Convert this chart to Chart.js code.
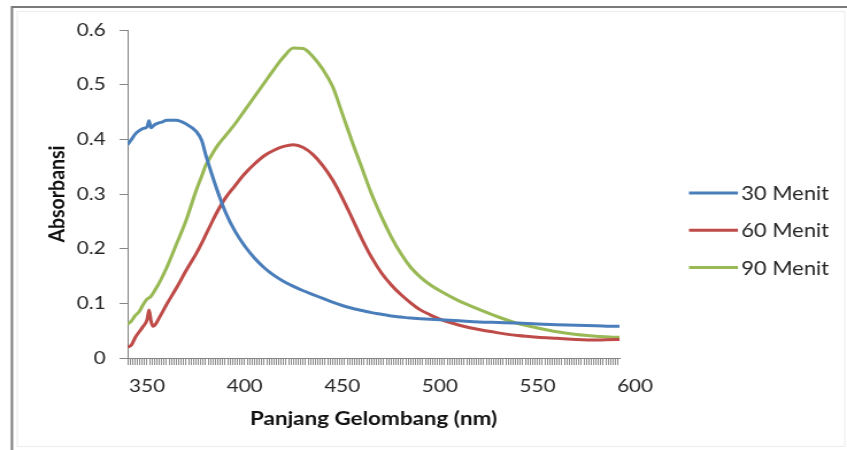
<!DOCTYPE html>
<html>
<head>
<meta charset="utf-8">
<title>Absorbansi</title>
<script src="https://cdn.jsdelivr.net/npm/chart.js@4.4.1/dist/chart.umd.min.js"></script>
<style>
  html, body { margin: 0; padding: 0; background: #fff; }
</style>
</head>
<body>
<!-- backing store is 737 wide, shown at 847: everything is widened a little -->
<canvas id="absorbance-chart" width="737" height="450" style="display:block;width:847px;height:450px"></canvas>
<script>
// wavelength (nm) of each sample
const wavelengths = [340, 342, 344, 346, 348, 350, 351, 352, 353, 354, 356, 358, 360,
  365, 370, 375, 378, 380, 383, 386, 390, 395, 400, 405, 410, 415, 420, 425, 430,
  435, 440, 445, 450, 455, 460, 465, 470, 475, 480, 485, 490, 495, 500, 510, 520,
  530, 540, 550, 560, 570, 580, 590, 592];

const menit30 = [0.390, 0.400, 0.410, 0.416, 0.420, 0.423, 0.434, 0.421, 0.424, 0.427, 0.430, 0.432, 0.435,
  0.435, 0.428, 0.415, 0.398, 0.372, 0.338, 0.306, 0.268, 0.232, 0.205, 0.183, 0.165, 0.151, 0.140, 0.131, 0.123,
  0.116, 0.109, 0.102, 0.096, 0.091, 0.087, 0.083, 0.080, 0.077, 0.075, 0.073, 0.072, 0.071, 0.070, 0.068, 0.066,
  0.065, 0.064, 0.062, 0.061, 0.060, 0.059, 0.058, 0.058];

const menit60 = [0.020, 0.024, 0.038, 0.048, 0.058, 0.070, 0.088, 0.068, 0.058, 0.060, 0.072, 0.085, 0.098,
  0.128, 0.160, 0.190, 0.210, 0.225, 0.247, 0.268, 0.292, 0.315, 0.337, 0.355, 0.370, 0.380, 0.387, 0.390, 0.385,
  0.372, 0.352, 0.326, 0.293, 0.256, 0.218, 0.184, 0.156, 0.134, 0.116, 0.101, 0.088, 0.079, 0.071, 0.060, 0.052,
  0.046, 0.041, 0.038, 0.036, 0.034, 0.033, 0.034, 0.034];

const menit90 = [0.062, 0.068, 0.078, 0.085, 0.098, 0.108, 0.110, 0.113, 0.118, 0.124, 0.136, 0.150, 0.165,
  0.208, 0.252, 0.305, 0.333, 0.352, 0.371, 0.388, 0.406, 0.428, 0.453, 0.478, 0.503, 0.528, 0.551, 0.567, 0.566,
  0.551, 0.528, 0.497, 0.447, 0.396, 0.348, 0.300, 0.259, 0.222, 0.191, 0.166, 0.148, 0.134, 0.123, 0.104, 0.089,
  0.075, 0.063, 0.055, 0.048, 0.043, 0.040, 0.038, 0.038];

const seriesLabels = ['30 Menit', '60 Menit', '90 Menit'];
const seriesColors = ['#4a7ebb', '#be4b48', '#98b954'];

// labelled wavelengths under the axis, and spacing of the small tick comb
const xTickLabels = [350, 400, 450, 500, 550, 600];
const combStep = 1.25;
const X_MIN = 340;
const X_MAX = 592;

const AXIS_GREY = '#868686';
const TEXT_COLOR = '#262626';
const FONT = 'Lato';

// Grey frame behind the chart
const framePlugin = {
    id: 'frame',
    beforeDraw(chart) {
        const { ctx, width, height } = chart;
        ctx.save();
        ctx.fillStyle = '#ffffff';
        ctx.fillRect(0, 0, width, height);
        ctx.strokeStyle = '#ececec';
        ctx.lineWidth = 1;
        ctx.strokeRect(15, 11.5, width - 17, height - 15);
        ctx.strokeStyle = '#7a7a7a';
        ctx.lineWidth = 2;
        ctx.beginPath();
        ctx.moveTo(10.4, height);
        ctx.lineTo(10.4, 7);
        ctx.lineTo(width, 7);
        ctx.stroke();
        ctx.restore();
    }
};

// Legend on the right: a short line sample then the series name
const sideLegend = {
    id: 'sideLegend',
    afterDraw(chart, args, opts) {
        const { ctx } = chart;
        ctx.save();
        ctx.font = `${opts.fontSize}px ${FONT}`;
        ctx.textBaseline = 'middle';
        ctx.textAlign = 'left';
        chart.data.datasets.forEach((ds, i) => {
            const y = opts.top + i * opts.rowGap;
            ctx.strokeStyle = ds.borderColor;
            ctx.lineWidth = 3;
            ctx.beginPath();
            ctx.moveTo(opts.x, y);
            ctx.lineTo(opts.x + opts.lineLength, y);
            ctx.stroke();
            ctx.fillStyle = TEXT_COLOR;
            ctx.fillText(ds.label, opts.x + opts.lineLength + 3, y + 1);
        });
        ctx.restore();
    }
};

const series = [menit30, menit60, menit90];

new Chart(document.getElementById('absorbance-chart'), {
    type: 'line',
    data: {
        labels: wavelengths,
        datasets: series.map((values, i) => ({
            label: seriesLabels[i],
            data: values,
            borderColor: seriesColors[i],
            backgroundColor: seriesColors[i],
            borderWidth: 3,
            pointRadius: 0,
            cubicInterpolationMode: 'monotone',
            fill: false,
        }))
    },
    plugins: [framePlugin, sideLegend],
    options: {
        responsive: false,
        devicePixelRatio: 1,
        animation: false,
        layout: { padding: { top: 30, right: 198, bottom: 0, left: 0 } },
        plugins: {
            legend: { display: false },
            tooltip: { enabled: false },
            sideLegend: { x: 599.5, lineLength: 42.6, top: 193, rowGap: 37.3, fontSize: 19 },
        },
        scales: {
            x: {
                type: 'linear',
                min: X_MIN,
                max: X_MAX,
                // dense comb of small ticks; only the round wavelengths get a label
                afterBuildTicks: (scale) => {
                    const ticks = [];
                    for (let v = X_MIN; v <= 600; v += combStep) ticks.push({ value: v });
                    scale.ticks = ticks;
                },
                afterFit: (scale) => { scale.height = 92; },
                ticks: {
                    autoSkip: false,
                    maxRotation: 0,
                    padding: 10,
                    color: TEXT_COLOR,
                    font: { family: FONT, size: 18 },
                    callback: (v) => xTickLabels.includes(v) ? String(v) : '',
                },
                grid: {
                    drawOnChartArea: false,
                    drawTicks: true,
                    tickLength: 7,
                    // the 600 label sits past the last sample, so no tick marks out there
                    color: (c) => (c.tick && c.tick.value > X_MAX) ? 'rgba(0,0,0,0)' : '#8c8c8c',
                },
                border: { color: AXIS_GREY, width: 1 },
                title: {
                    display: true,
                    text: 'Panjang Gelombang (nm)',
                    color: '#111111',
                    font: { family: FONT, size: 19.5, weight: 'bold' },
                    padding: { top: 0, bottom: 20 },
                },
            },
            y: {
                min: 0,
                max: 0.6,
                afterFit: (scale) => { scale.width = 111; },
                ticks: {
                    stepSize: 0.1,
                    padding: 12,
                    color: TEXT_COLOR,
                    font: { family: FONT, size: 18 },
                    callback: (v) => v === 0 ? '0' : v.toFixed(1),
                },
                grid: {
                    drawOnChartArea: false,
                    tickLength: 7,
                    color: AXIS_GREY,
                },
                border: { color: AXIS_GREY, width: 1 },
                title: {
                    display: true,
                    text: 'Absorbansi',
                    color: '#111111',
                    font: { family: FONT, size: 19.5, weight: 'bold' },
                    padding: { top: 38, bottom: 0 },
                },
            }
        }
    }
});
</script>
</body>
</html>
